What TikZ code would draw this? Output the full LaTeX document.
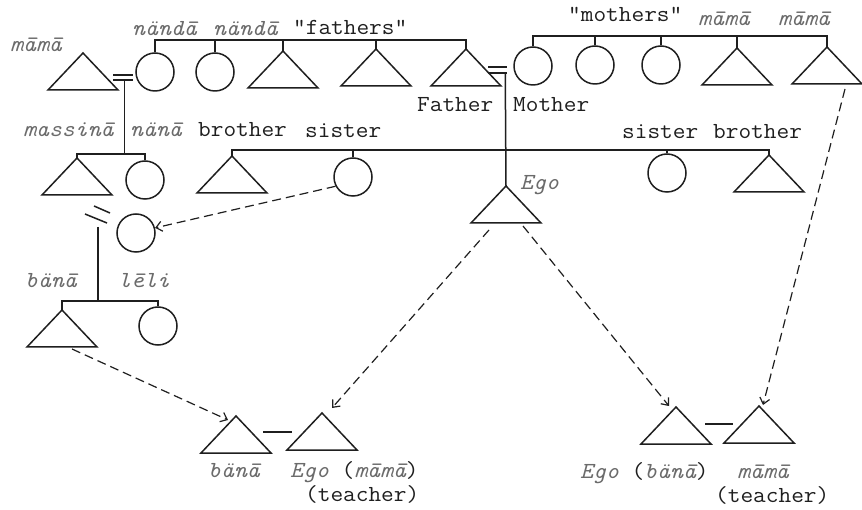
\documentclass[tikz,border=0pt]{standalone}
\usepackage{fontspec}
\newfontfamily\typer{Latin Modern Mono}[FakeStretch=1.07]
\usetikzlibrary{arrows.meta,calc}
\definecolor{ink}{gray}{0.12}
\definecolor{txt}{gray}{0.12}
\definecolor{itx}{gray}{0.42}
% kin term in italics
\newcommand\kw[1]{{\itshape\color{itx}#1}}

\begin{document}
\begin{tikzpicture}[x=1pt,y=-1pt,
  line/.style={draw=ink, line width=1.5pt},
  kin/.style={line, circle, minimum size=38pt, inner sep=0pt},
  lbl/.style={anchor=base west, inner sep=0pt, text=txt,
              font=\typer\fontsize{23}{27}\selectfont},
  tie/.style={draw=ink, line width=1.2pt, dash pattern=on 9pt off 5pt,
              -{Straight Barb[length=6pt,width=10pt]}},
  pics/tri/.style={code={
    \coordinate (-apex) at (0,0);
    \draw[line] (0,0) -- (35,37) -- (-35,37) -- cycle;
  }}]
\useasboundingbox (0,0) rectangle (862,510);
\fill[white] (0,0) rectangle (862,510);

% ---------- senior generation, father's side ----------
\pic (tMama) at (83,53) {tri};
\node[kin] (c1) at (155,72) {};
\node[kin] (c2) at (215,72) {};
\pic (t3) at (283,51) {tri};
\pic (t4) at (376,49) {tri};
\pic (tFa) at (466,49) {tri};
\coordinate (b1) at (0,40);
\draw[line] (c1.north) -- (c1.north |- b1) -- (tFa-apex |- b1) -- (tFa-apex);
\foreach \n in {c2.north, t3-apex, t4-apex} \draw[line] (\n) -- (\n |- b1);

% ---------- senior generation, mother's side ----------
\node[kin] (cMo) at (533,66) {};
\node[kin] (c6) at (595,65) {};
\node[kin] (c7) at (661,65) {};
\pic (t8) at (737,48) {tri};
\pic (t9) at (827,47) {tri};
\coordinate (b5) at (0,36);
\draw[line] (cMo.north) -- (cMo.north |- b5) -- (t9-apex |- b5) -- (t9-apex);
\foreach \n in {c6.north, c7.north, t8-apex} \draw[line] (\n) -- (\n |- b5);

% ---------- marriages of the senior generation ----------
\draw[line] ($(c1.west)+(-22,3)$) -- ++(20,0);
\draw[line] ($(c1.west)+(-22,8)$) -- ++(20,0);
\coordinate (m1) at ($(c1.west)+(-11,8)$);
\draw[line] ($(cMo.west)+(-25,1)$) -- ++(19,0);
\draw[line] ($(cMo.west)+(-25,7)$) -- ++(19,0);
\coordinate (m2) at ($(cMo.west)+(-8,7)$);

% ---------- mama's children ----------
\pic (tMas) at (77,158) {tri};
\node[kin] (cNana) at (145,180) {};
\coordinate (b2) at (0,154);
\draw[line] (m1) -- (m1 |- b2);
\draw[line] (tMas-apex) -- (tMas-apex |- b2) -- (cNana.north |- b2) -- (cNana.north);

% ---------- Ego's generation ----------
\pic (tBro) at (232,156) {tri};
\node[kin] (cSis) at (353,177) {};
\pic (tEgo) at (506,186) {tri};
\node[kin] (cSis2) at (667,173) {};
\pic (tBro2) at (769,155) {tri};
\coordinate (b3) at (0,150);
\draw[line] (tBro-apex) -- (tBro-apex |- b3) -- (tBro2-apex |- b3) -- (tBro2-apex);
\foreach \n in {cSis.north, cSis2.north} \draw[line] (\n) -- (\n |- b3);
\draw[line] (m2) -- (tEgo-apex);

% ---------- massina's marriage and children ----------
\node[kin] (cWife) at (136,233) {};
\draw[line] ($(cWife)+(-42,-27)$) -- ++(16,7);
\draw[line] ($(cWife)+(-51,-19)$) -- ++(22,9);
\coordinate (m3) at ($(cWife)+(-38,-6)$);
\pic (tBana) at (62,310) {tri};
\node[kin] (cLeli) at (158,326) {};
\coordinate (b4) at (0,301);
\draw[line] (m3) -- (m3 |- b4);
\draw[line] (tBana-apex) -- (tBana-apex |- b4) -- (cLeli.north |- b4) -- (cLeli.north);

% ---------- teacher pairs ----------
\pic (tA) at (236,416) {tri};
\pic (tB) at (322,413) {tri};
\draw[line] ($(tA-apex)+(27,16)$) -- ($(tB-apex)+(-30,19)$);
\pic (tC) at (676,407) {tri};
\pic (tD) at (759,406) {tri};
\draw[line] ($(tC-apex)+(29,17)$) -- ($(tD-apex)+(-26,18)$);

% ---------- dashed identifications ----------
\draw[tie] (cSis.208) -- (cWife.15);
\draw[tie] ($(tBana-apex)+(10,39)$) -- ($(tA-apex)+(-8,4)$);
\draw[tie] ($(tEgo-apex)+(-17,44)$) -- ($(tB-apex)+(10,-5)$);
\draw[tie] ($(tEgo-apex)+(17,40)$) -- ($(tC-apex)+(-7,-1)$);
\draw[tie] ($(t9-apex)+(18,42)$) -- ($(tD-apex)+(4,-1)$);

% ---------- labels ----------
\node[lbl] (l1) at (10,52) {\kw{māmā}};
\node[lbl] (l2) at (132,36) {\kw{nändā}};
\node[lbl] (l3) at (213,36) {\kw{nändā}};
\node[lbl] (l4) at (293,35) {"fathers"};
\node[lbl] (l5) at (568,22) {"mothers"};
\node[lbl] (l6) at (698,26) {\kw{māmā}};
\node[lbl] (l7) at (778,26) {\kw{māmā}};
\node[lbl] (l8) at (417,112) {Father};
\node[lbl] (l9) at (513,112) {Mother};
\node[lbl] (l10) at (23,137) {\kw{massinā}};
\node[lbl] (l11) at (130,137) {\kw{nänā}};
\node[lbl] (l12) at (198,137) {brother};
\node[lbl] (l13) at (305,138) {sister};
\node[lbl] (l14) at (622,139) {sister};
\node[lbl] (l15) at (713,139) {brother};
\node[lbl] (l16) at (520,190) {\kw{Ego}};
\node[lbl] (l17) at (25,288) {\kw{bänā}};
\node[lbl] (l18) at (118,288) {\kw{lēli}};
\node[lbl] (l19) at (208,477) {\kw{bänā}};
\node[lbl] (l20) at (290,477) {\kw{Ego} (\kw{māmā})};
\node[lbl] (l21) at (305,501) {(teacher)};
\node[lbl] (l22) at (580,478) {\kw{Ego} (\kw{bänā})};
\node[lbl] (l23) at (737,478) {\kw{māmā}};
\node[lbl] (l24) at (715,502) {(teacher)};
\end{tikzpicture}
\end{document}
